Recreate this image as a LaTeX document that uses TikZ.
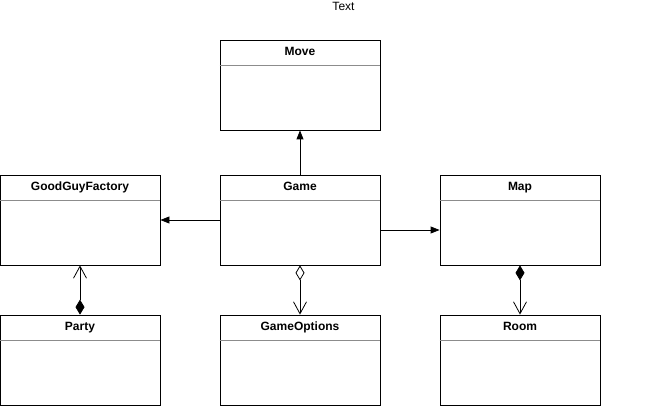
\documentclass[tikz,border=0pt]{standalone}
\usepackage{fontspec}
\setmainfont{Liberation Sans}
\usetikzlibrary{arrows.meta}
\tikzset{
  classbox/.style = {draw=black, line width=0.8pt, minimum width=160pt,
    minimum height=90pt, inner sep=0pt},% class frame
  classname/.style = {anchor=base, inner sep=0pt,
    font=\fontsize{12}{14}\selectfont\bfseries},% class title
  divider/.style = {draw=black!45, line width=0.8pt},% title separator
  assoc/.style = {-{Triangle[length=9pt,width=7pt]}, line width=0.8pt},
  aggr/.style = {{Diamond[open,length=15pt,width=9pt]}-{Straight Barb[length=12pt,width=13pt]},
    line width=0.8pt},
  comp/.style = {{Diamond[length=15pt,width=9pt]}-{Straight Barb[length=12pt,width=13pt]},
    line width=0.8pt}
}
\begin{document}
\begin{tikzpicture}[x=1pt,y=-1pt]
  \useasboundingbox (0,0) rectangle (665,409);
  \node [anchor=base, font=\fontsize{12}{14}\selectfont, inner sep=0pt] (title) at (343.5,10.5) {Text};

  \foreach \n/\x/\y/\t in {move/300/85/Move, game/300/220/Game, ggf/80/220/GoodGuyFactory,
      map/520/220/Map, party/80/360/Party, opts/300/360/GameOptions, room/520/360/Room} {
    \node [classbox] (\n) at (\x,\y) {};
    \node [classname] (\n-name) at ([yshift=-16pt]\n.north) {\t};
    \draw [divider] ([yshift=-26pt]\n.north west) -- ([yshift=-26pt]\n.north east);
  }

  \draw [assoc] (game.north) -- (move.south);
  \draw [assoc] (game.west) -- (ggf.east);
  \draw [assoc] ([yshift=-10pt]game.east) -- ([yshift=-10pt]map.west);
  \draw [aggr] (game.south) -- (opts.north);
  \draw [comp] (party.north) -- (ggf.south);
  \draw [comp] (map.south) -- (room.north);
\end{tikzpicture}
\end{document}
